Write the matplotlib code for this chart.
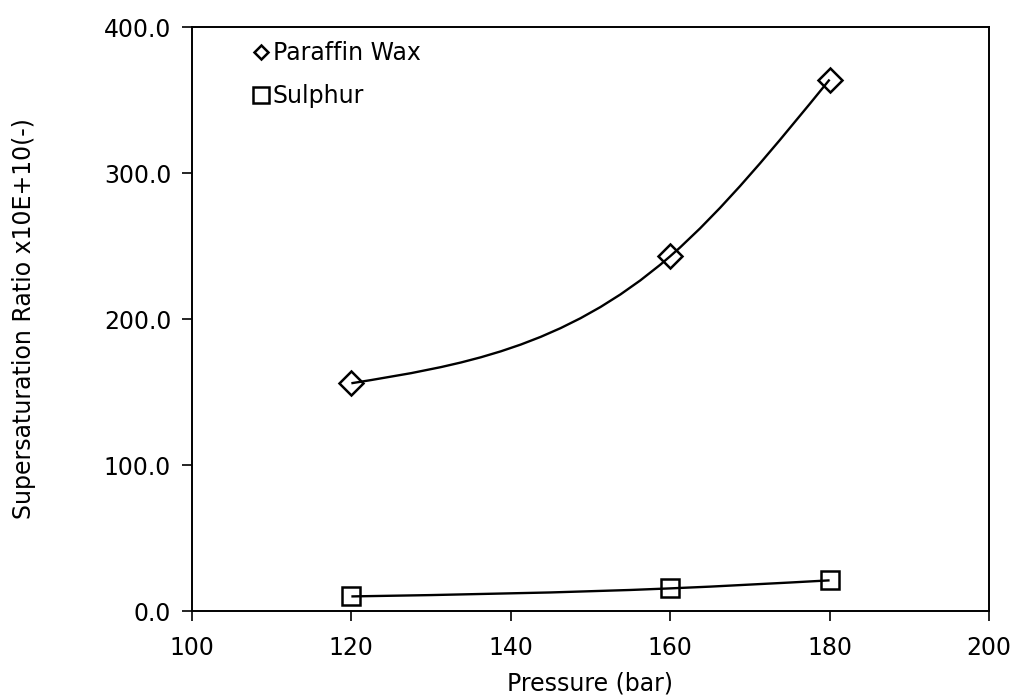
import numpy as np
import matplotlib
matplotlib.use("Agg")
import matplotlib.pyplot as plt
from matplotlib.path import Path
from matplotlib.patches import PathPatch
from matplotlib.lines import Line2D

pressure = [120, 160, 180]
paraffin = [156.0, 243.0, 364.0]
sulphur = [10.0, 15.5, 21.0]


def smooth_path(x, y):
    # cubic bezier through the points (hermite tangents, natural ends)
    x = np.asarray(x, float)
    y = np.asarray(y, float)
    h = np.diff(x)
    s = np.diff(y) / h
    n = len(x)
    m = np.zeros(n)
    for i in range(1, n - 1):
        m[i] = (h[i] * s[i - 1] + h[i - 1] * s[i]) / (h[i - 1] + h[i])
    m[0] = (3 * s[0] - m[1]) / 2
    m[-1] = (3 * s[-1] - m[-2]) / 2
    verts = [(x[0], y[0])]
    codes = [Path.MOVETO]
    for i in range(n - 1):
        d = h[i] / 3
        verts += [(x[i] + d, y[i] + m[i] * d),
                  (x[i + 1] - d, y[i + 1] - m[i + 1] * d),
                  (x[i + 1], y[i + 1])]
        codes += [Path.CURVE4] * 3
    return Path(verts, codes)


fig = plt.figure(figsize=(10.13, 6.96), dpi=100)
ax = fig.add_axes([0.1895, 0.1221, 0.7868, 0.8391])

for yy in (paraffin, sulphur):
    ax.add_patch(PathPatch(smooth_path(pressure, yy), facecolor="none",
                           edgecolor="black", lw=1.7, zorder=2))

ax.plot(pressure, paraffin, ls="none", marker="D", ms=12, mfc="none",
        mec="black", mew=1.8, zorder=3)
ax.plot(pressure, sulphur, ls="none", marker="s", ms=13, mfc="none",
        mec="black", mew=1.8, zorder=3)

ax.set_xlim(100, 200)
ax.set_ylim(0, 400)
ax.set_xticks(np.arange(100, 201, 20))
ax.set_yticks(np.arange(0, 401, 100))
ax.set_yticklabels(["%.1f" % v for v in np.arange(0, 401, 100)])
ax.tick_params(direction="out", length=7, width=1.2, labelsize=17,
               colors="black")
ax.tick_params(axis="y", pad=8)
ax.tick_params(axis="x", pad=11)
for sp in ax.spines.values():
    sp.set_linewidth(1.4)

ax.set_xlabel("Pressure (bar)", fontsize=17)
ax.set_ylabel("Supersaturation Ratio x10E+10(-)", fontsize=17)
ax.xaxis.set_label_coords(0.5, -0.103)
ax.yaxis.set_label_coords(-0.196, 0.5)

handles = [Line2D([], [], ls="none", marker="D", ms=7.5, mfc="none", mec="black", mew=1.8),
           Line2D([], [], ls="none", marker="s", ms=11, mfc="none", mec="black", mew=1.8)]
ax.legend(handles, ["Paraffin Wax", "Sulphur"], loc="upper left",
          bbox_to_anchor=(0.057, 1.0), frameon=False, fontsize=17,
          handlelength=0.8, handletextpad=0.1, labelspacing=0.8,
          borderaxespad=0.2)

fig.savefig("out.png", dpi=100)
